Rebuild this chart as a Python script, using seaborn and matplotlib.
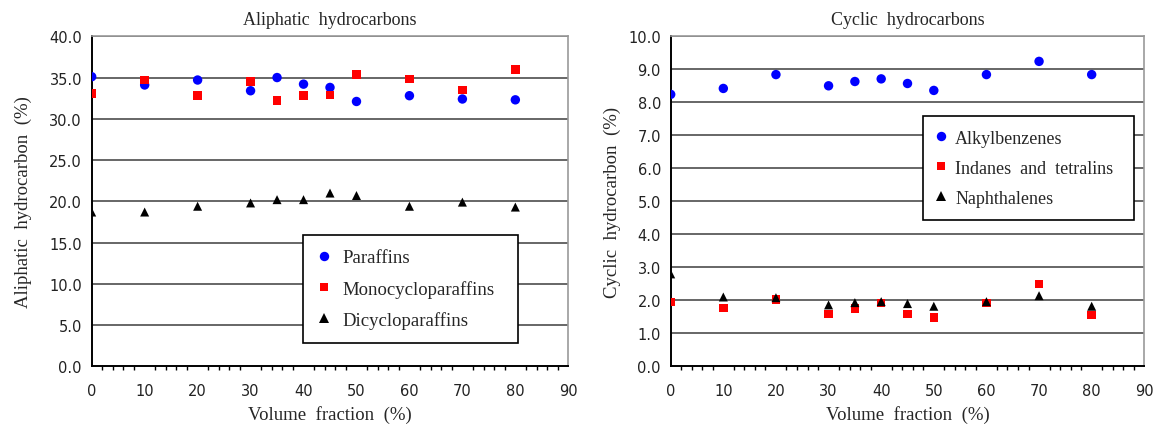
import numpy as np
import pandas as pd
import matplotlib
matplotlib.use("Agg")
import matplotlib.pyplot as plt
import seaborn as sns
from matplotlib.ticker import MultipleLocator, FormatStrFormatter

# ---------------- data ----------------
volume_fraction = [0, 10, 20, 30, 35, 40, 45, 50, 60, 70, 80]

paraffins = [35.1, 34.1, 34.7, 33.4, 35.0, 34.2, 33.8, 32.1, 32.8, 32.4, 32.3]
monocycloparaffins = [33.1, 34.7, 32.8, 34.5, 32.2, 32.8, 32.9, 35.4, 34.8, 33.5, 36.0]
dicycloparaffins = [18.7, 18.7, 19.4, 19.8, 20.2, 20.2, 21.0, 20.7, 19.4, 19.9, 19.3]

alkylbenzenes = [8.24, 8.42, 8.84, 8.50, 8.63, 8.71, 8.57, 8.36, 8.84, 9.24, 8.84]
indanes_tetralins = [1.95, 1.77, 2.02, 1.58, 1.76, 1.92, 1.59, 1.48, 1.92, 2.49, 1.56]
naphthalenes = [2.80, 2.10, 2.08, 1.86, 1.93, 1.96, 1.90, 1.82, 1.96, 2.14, 1.82]

left_names = ["Paraffins", "Monocycloparaffins", "Dicycloparaffins"]
right_names = ["Alkylbenzenes", "Indanes  and  tetralins", "Naphthalenes"]


def long_df(names, series):
    rows = []
    for n, s in zip(names, series):
        for x, y in zip(volume_fraction, s):
            rows.append({"x": x, "y": y, "series": n})
    return pd.DataFrame(rows)


df_left = long_df(left_names, [paraffins, monocycloparaffins, dicycloparaffins])
df_right = long_df(right_names, [alkylbenzenes, indanes_tetralins, naphthalenes])

# ---------------- style ----------------
sns.set_style("white")
plt.rcParams["font.family"] = ["DejaVu Sans"]
serif = "Liberation Serif"

W, H = 1159, 427
fig = plt.figure(figsize=(W / 100, H / 100), dpi=100)

colors = ["#0000FF", "#FF0000", "#000000"]
markers = ["o", "s", "^"]
sizes_pts = [46, 38, 42]


def make_axes(px_left, px_right, px_top, px_bottom):
    return fig.add_axes([px_left / W, 1 - px_bottom / H,
                         (px_right - px_left) / W, (px_bottom - px_top) / H])


def style_axes(ax, ymax, ystep, title, ylabel, ylabelpad, legend_box,
               leg_fs, handlelength, handletextpad):
    ax.set_xlim(0, 90)
    ax.set_ylim(0, ymax)
    ax.xaxis.set_major_locator(MultipleLocator(10))
    ax.xaxis.set_minor_locator(MultipleLocator(2))
    ax.yaxis.set_major_locator(MultipleLocator(ystep))
    ax.yaxis.set_major_formatter(FormatStrFormatter("%.1f"))
    ax.grid(False)
    for yv in np.arange(ystep, ymax + ystep / 2, ystep):
        ax.axhline(yv, color="#5a5a5a", lw=1.3, zorder=0)
    ax.tick_params(axis="both", which="major", direction="out", length=5,
                   width=1.0, color="black", labelsize=10.5, labelcolor="#222222")
    ax.tick_params(axis="x", which="minor", direction="out", length=3,
                   width=1.0, color="black", bottom=True)
    ax.tick_params(axis="x", which="major", pad=7)
    ax.tick_params(axis="y", which="major", pad=2)
    for side in ["left", "bottom"]:
        ax.spines[side].set_color("black")
        ax.spines[side].set_linewidth(1.4)
    for side in ["top", "right"]:
        ax.spines[side].set_color("#999999")
        ax.spines[side].set_linewidth(1.2)
    ax.set_title(title, family=serif, fontsize=13, pad=9)
    ax.set_xlabel("Volume  fraction  (%)", family=serif, fontsize=13.5, labelpad=5)
    ax.set_ylabel(ylabel, family=serif, fontsize=13.5, labelpad=ylabelpad)
    leg = ax.legend(loc="upper left", bbox_to_anchor=legend_box, mode="expand",
                    frameon=True, fancybox=False, shadow=False,
                    prop={"family": serif, "size": leg_fs},
                    labelspacing=0.72, handletextpad=handletextpad, borderpad=0.75,
                    handlelength=handlelength, borderaxespad=0)
    leg.get_frame().set_edgecolor("black")
    leg.get_frame().set_linewidth(1.2)
    leg.get_frame().set_facecolor("white")
    leg.get_frame().set_alpha(1)
    leg.set_zorder(5)


# left panel
ax1 = make_axes(91.7, 568.3, 37.3, 367.3)
sns.scatterplot(data=df_left, x="x", y="y", hue="series", style="series",
                hue_order=left_names, style_order=left_names,
                palette=colors, markers=markers, size="series",
                sizes=dict(zip(left_names, sizes_pts)), size_order=left_names,
                edgecolor="none", linewidth=0, ax=ax1, zorder=3)
style_axes(ax1, 40, 5, "Aliphatic  hydrocarbons", "Aliphatic  hydrocarbon  (%)", 12,
           (0.444, 0.077, 0.45, 0.321), 13.5, 0.75, 0.6)

# right panel
ax2 = make_axes(670.7, 1144.3, 37.3, 367.3)
sns.scatterplot(data=df_right, x="x", y="y", hue="series", style="series",
                hue_order=right_names, style_order=right_names,
                palette=colors, markers=markers, size="series",
                sizes=dict(zip(right_names, sizes_pts)), size_order=right_names,
                edgecolor="none", linewidth=0, ax=ax2, zorder=3)
style_axes(ax2, 10, 1, "Cyclic  hydrocarbons", "Cyclic  hydrocarbon  (%)", 5,
           (0.533, 0.436, 0.446, 0.322), 13, 0.45, 0.58)

fig.savefig("out.png", dpi=100)
